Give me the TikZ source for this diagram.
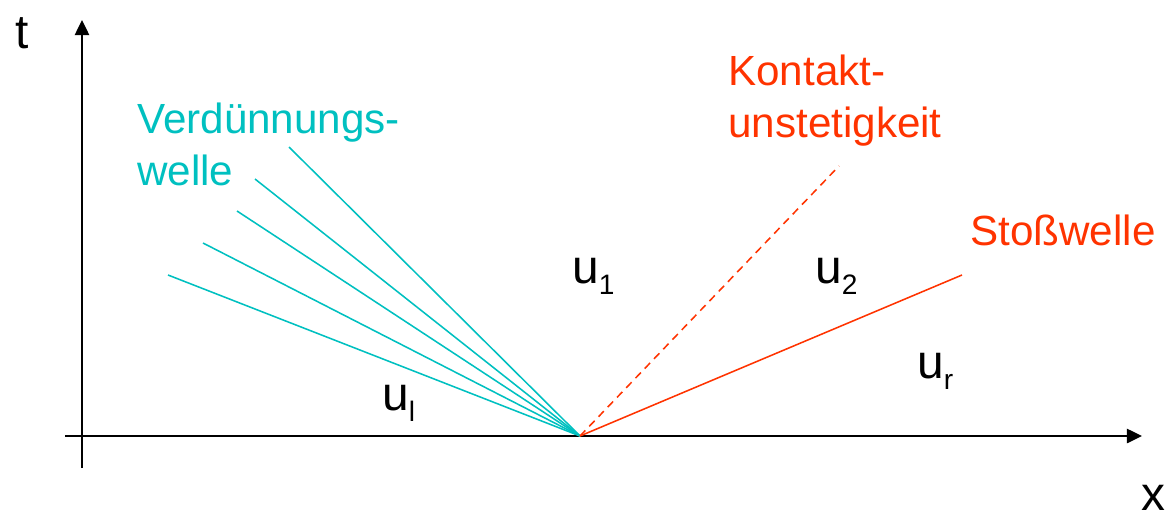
\documentclass[tikz,border=0pt]{standalone}
\usepackage{fontspec}
\setmainfont{Liberation Sans}
\usetikzlibrary{arrows.meta}
\usepackage{xcolor}
\definecolor{fancyan}{RGB}{0,192,192}
\definecolor{shockred}{RGB}{255,51,0}
\newcommand{\lowidx}[1]{\raisebox{-0.24em}{\fontsize{20}{24}\selectfont #1}}

\begin{document}
\begin{tikzpicture}[x=0.025cm,y=-0.025cm,>={Triangle[length=3.8mm,width=3.6mm]},
  axis/.style={line width=1.3pt},
  fan/.style={fancyan,line width=1.1pt},
  wave/.style={shockred,line width=1.1pt},
  bigtxt/.style={inner sep=0pt,anchor=base west,font=\fontsize{34}{40}\selectfont},
  lbl/.style={inner sep=0pt,anchor=base west,font=\fontsize{30}{36}\selectfont}]
\useasboundingbox (0,0) rectangle (1168,513);
% axes
\coordinate (O) at (580,436);
\coordinate (xs) at (65,436);
\coordinate (xe) at (1142,436);
\coordinate (ts) at (82,468);
\coordinate (te) at (82,20);
\draw[axis,->] (xs) -- (xe);
\draw[axis,->] (ts) -- (te);
\node[bigtxt] (tlbl) at (15,48) {t};
\node[bigtxt] (xlbl) at (1141,510) {x};
% rarefaction fan
\foreach \px/\py [count=\i] in {168/275,203/243,237/211,255/179,289/147}{
  \coordinate (r\i) at (\px,\py);
  \draw[fan] (O) -- (r\i);
}
% contact and shock
\coordinate (ce) at (839,166);
\coordinate (se) at (962,275);
\draw[wave,dash pattern=on 5.5pt off 4pt] (O) -- (ce);
\draw[wave] (O) -- (se);
% labels
\node[lbl,fancyan] (rare1) at (137,133) {Verdünnungs-};
\node[lbl,fancyan] (rare2) at (137,185) {welle};
\node[lbl,shockred] (cont1) at (728,85) {Kontakt-};
\node[lbl,shockred] (cont2) at (728,137) {unstetigkeit};
\node[lbl,shockred] (shock) at (970,245) {Stoßwelle};
\node[bigtxt] (ul) at (382,410) {u\lowidx{l}};
\node[bigtxt] (u1) at (572,283) {u\lowidx{1}};
\node[bigtxt] (u2) at (815,283) {u\lowidx{2}};
\node[bigtxt] (ur) at (917,378) {u\lowidx{r}};
\end{tikzpicture}
\end{document}
